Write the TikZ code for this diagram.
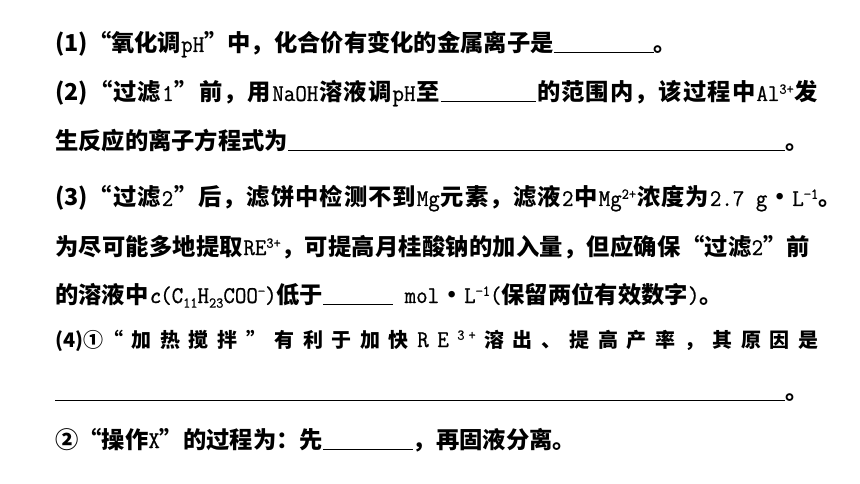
\documentclass[tikz,border=0pt]{standalone}
\usepackage{fontspec}
\setmainfont{Liberation Serif}
\newfontfamily\cjk{Noto Sans CJK SC}
\newfontfamily\latfont{Latin Modern Mono}[FakeStretch=0.93,FakeBold=0.8]
\newcommand{\lat}[1]{{\latfont\mdseries\fontsize{24}{28}\selectfont #1}}
\newcommand{\sps}[1]{\raisebox{0.7ex}{\fontsize{15}{17}\selectfont #1}}
\newcommand{\sbs}[1]{\raisebox{-0.45ex}{\fontsize{15}{17}\selectfont #1}}
\newcommand{\blank}[1]{\rule[-1.5pt]{#1pt}{1pt}}
\newcommand{\gap}{\hfill{}}
\newcommand{\opq}{\makebox[1em][r]{“}}
\newcommand{\clq}{\makebox[1em][l]{”}}
\newcommand{\cdotx}{\makebox[25pt]{•}}
\usepackage{tikz}
\usetikzlibrary{positioning}
\tikzset{>=stealth}
\tikzset{qline/.style={anchor=base west,inner sep=0pt,font=\cjk\bfseries\fontsize{23.3}{28}\selectfont}}

\begin{document}
\begin{tikzpicture}[x=1pt,y=-1pt]
\useasboundingbox (0,0) rectangle (860,484);
% (1)
\node [qline] (q1) at (55,52) {(1)\opq 氧化调\lat{pH}\clq 中，化合价有变化的金属离子是\blank{100}。};
% (2)
\node [qline] (q2) at (55,101) {\makebox[763pt][s]{(2)\gap \opq\gap 过\gap 滤\gap \lat{1}\gap \clq\gap 前\gap ，\gap 用\gap \lat{NaOH}\gap 溶\gap 液\gap 调\gap \lat{pH}\gap 至\gap \blank{95}\gap 的\gap 范\gap 围\gap 内\gap ，\gap 该\gap 过\gap 程\gap 中\gap \lat{Al\sps{3+}}\gap 发}};
\node [qline] (q3) at (55,150) {生反应的离子方程式为\blank{497}。};
% (3)
\node [qline] (q4) at (55,206) {\makebox[763pt][s]{(3)\gap \opq\gap 过\gap 滤\gap \lat{2}\gap \clq\gap 后\gap ，\gap 滤\gap 饼\gap 中\gap 检\gap 测\gap 不\gap 到\gap \lat{Mg}\gap 元\gap 素\gap ，\gap 滤\gap 液\gap \lat{2}\gap 中\gap \lat{Mg\sps{2+}}\gap 浓\gap 度\gap 为\gap \lat{2.7 g}\cdotx\lat{L\sps{−1}}}。};
\node [qline] (q5) at (55,255) {\makebox[755pt][s]{为\gap 尽\gap 可\gap 能\gap 多\gap 地\gap 提\gap 取\gap \lat{RE\sps{3+}}\gap ，\gap 可\gap 提\gap 高\gap 月\gap 桂\gap 酸\gap 钠\gap 的\gap 加\gap 入\gap 量\gap ，\gap 但\gap 应\gap 确\gap 保\gap \opq\gap 过\gap 滤\gap \lat{2}\gap \clq\gap 前}};
\node [qline] (q6) at (55,303) {的溶液中\lat{\textit{c}(C\sbs{11}H\sbs{23}COO\sps{−})}低于\blank{70}\lat{ mol}\cdotx\lat{L\sps{−1}(}保留两位有效数字\lat{)}。};
% (4)
\node [qline,font=\cjk\bfseries\fontsize{20}{24}\selectfont] (q7) at (55,347) {\makebox[763pt][s]{(4)①\opq\gap 加\gap 热\gap 搅\gap 拌\gap \clq\gap 有\gap 利\gap 于\gap 加\gap 快\gap \lat{R}\gap \lat{E}\gap \lat{\sps{3}\,\sps{+}}\gap 溶\gap 出\gap 、\gap 提\gap 高\gap 产\gap 率\gap ，\gap 其\gap 原\gap 因\gap 是}};
\node [qline] (q8) at (55,399) {\blank{730}。};
\node [qline] (q9) at (55,448) {②\opq 操作\lat{X}\clq 的过程为：先\blank{90}，再固液分离。};
\end{tikzpicture}
\end{document}
